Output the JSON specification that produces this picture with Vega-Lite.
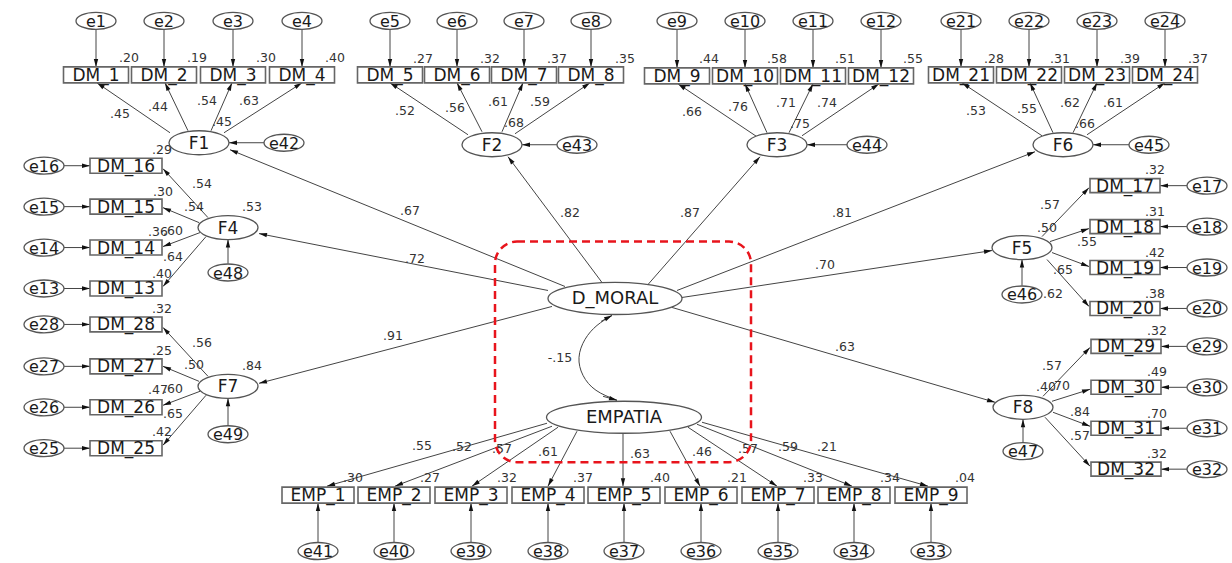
{
  "$schema": "https://vega.github.io/schema/vega-lite/v6.json",
  "width": 1232,
  "height": 563,
  "autosize": {"type": "fit", "contains": "padding"},
  "padding": 0,
  "background": "white",
  "config": {"view": {"stroke": null}},
  "datasets": {
    "nodes": [
      {"name": "e1", "x": 96, "y": 21, "kind": "e"},
      {"name": "e2", "x": 164, "y": 21, "kind": "e"},
      {"name": "e3", "x": 233, "y": 21, "kind": "e"},
      {"name": "e4", "x": 302, "y": 21, "kind": "e"},
      {"name": "e5", "x": 390, "y": 21, "kind": "e"},
      {"name": "e6", "x": 457, "y": 21, "kind": "e"},
      {"name": "e7", "x": 524, "y": 21, "kind": "e"},
      {"name": "e8", "x": 591, "y": 21, "kind": "e"},
      {"name": "e9", "x": 677, "y": 21, "kind": "e"},
      {"name": "e10", "x": 745, "y": 21, "kind": "e"},
      {"name": "e11", "x": 813, "y": 21, "kind": "e"},
      {"name": "e12", "x": 881, "y": 21, "kind": "e"},
      {"name": "e21", "x": 961, "y": 21, "kind": "e"},
      {"name": "e22", "x": 1029, "y": 21, "kind": "e"},
      {"name": "e23", "x": 1097, "y": 21, "kind": "e"},
      {"name": "e24", "x": 1165, "y": 21, "kind": "e"},
      {"name": "e42", "x": 284, "y": 143, "kind": "e"},
      {"name": "e43", "x": 577, "y": 145, "kind": "e"},
      {"name": "e44", "x": 867, "y": 145, "kind": "e"},
      {"name": "e45", "x": 1149, "y": 145, "kind": "e"},
      {"name": "e16", "x": 44, "y": 166, "kind": "e"},
      {"name": "e15", "x": 44, "y": 207, "kind": "e"},
      {"name": "e14", "x": 44, "y": 248, "kind": "e"},
      {"name": "e13", "x": 44, "y": 289, "kind": "e"},
      {"name": "e28", "x": 44, "y": 325, "kind": "e"},
      {"name": "e27", "x": 44, "y": 367, "kind": "e"},
      {"name": "e26", "x": 44, "y": 408, "kind": "e"},
      {"name": "e25", "x": 44, "y": 449, "kind": "e"},
      {"name": "e48", "x": 228, "y": 273, "kind": "e"},
      {"name": "e49", "x": 228, "y": 435, "kind": "e"},
      {"name": "e46", "x": 1022, "y": 295, "kind": "e"},
      {"name": "e47", "x": 1023, "y": 452, "kind": "e"},
      {"name": "e17", "x": 1207, "y": 186, "kind": "e"},
      {"name": "e18", "x": 1207, "y": 227, "kind": "e"},
      {"name": "e19", "x": 1207, "y": 268, "kind": "e"},
      {"name": "e20", "x": 1207, "y": 309, "kind": "e"},
      {"name": "e29", "x": 1207, "y": 347, "kind": "e"},
      {"name": "e30", "x": 1207, "y": 388, "kind": "e"},
      {"name": "e31", "x": 1207, "y": 429, "kind": "e"},
      {"name": "e32", "x": 1207, "y": 470, "kind": "e"},
      {"name": "e41", "x": 318, "y": 552, "kind": "e"},
      {"name": "e40", "x": 394, "y": 552, "kind": "e"},
      {"name": "e39", "x": 471, "y": 552, "kind": "e"},
      {"name": "e38", "x": 548, "y": 552, "kind": "e"},
      {"name": "e37", "x": 624, "y": 552, "kind": "e"},
      {"name": "e36", "x": 701, "y": 552, "kind": "e"},
      {"name": "e35", "x": 778, "y": 552, "kind": "e"},
      {"name": "e34", "x": 854, "y": 552, "kind": "e"},
      {"name": "e33", "x": 931, "y": 552, "kind": "e"},
      {"name": "F1", "x": 199, "y": 143, "kind": "F"},
      {"name": "F2", "x": 492, "y": 145, "kind": "F"},
      {"name": "F3", "x": 777, "y": 145, "kind": "F"},
      {"name": "F6", "x": 1063, "y": 145, "kind": "F"},
      {"name": "F4", "x": 228, "y": 228, "kind": "F"},
      {"name": "F7", "x": 228, "y": 387, "kind": "F"},
      {"name": "F5", "x": 1022, "y": 248, "kind": "F"},
      {"name": "F8", "x": 1023, "y": 408, "kind": "F"},
      {"name": "D_MORAL", "x": 615, "y": 299, "kind": "D"},
      {"name": "EMPATIA", "x": 624, "y": 418, "kind": "EMP"},
      {"name": "DM_1", "x": 96, "y": 75, "kind": "top"},
      {"name": "DM_2", "x": 164, "y": 75, "kind": "top"},
      {"name": "DM_3", "x": 233, "y": 75, "kind": "top"},
      {"name": "DM_4", "x": 302, "y": 75, "kind": "top"},
      {"name": "DM_5", "x": 390, "y": 75, "kind": "top"},
      {"name": "DM_6", "x": 457, "y": 75, "kind": "top"},
      {"name": "DM_7", "x": 524, "y": 75, "kind": "top"},
      {"name": "DM_8", "x": 591, "y": 75, "kind": "top"},
      {"name": "DM_9", "x": 677, "y": 76, "kind": "top"},
      {"name": "DM_10", "x": 745, "y": 76, "kind": "top"},
      {"name": "DM_11", "x": 813, "y": 76, "kind": "top"},
      {"name": "DM_12", "x": 881, "y": 76, "kind": "top"},
      {"name": "DM_21", "x": 961, "y": 75, "kind": "top"},
      {"name": "DM_22", "x": 1029, "y": 75, "kind": "top"},
      {"name": "DM_23", "x": 1097, "y": 75, "kind": "top"},
      {"name": "DM_24", "x": 1165, "y": 75, "kind": "top"},
      {"name": "DM_16", "x": 126, "y": 166, "kind": "left"},
      {"name": "DM_15", "x": 126, "y": 207, "kind": "left"},
      {"name": "DM_14", "x": 126, "y": 248, "kind": "left"},
      {"name": "DM_13", "x": 126, "y": 289, "kind": "left"},
      {"name": "DM_28", "x": 126, "y": 325, "kind": "left"},
      {"name": "DM_27", "x": 126, "y": 367, "kind": "left"},
      {"name": "DM_26", "x": 126, "y": 408, "kind": "left"},
      {"name": "DM_25", "x": 126, "y": 449, "kind": "left"},
      {"name": "DM_17", "x": 1125, "y": 186, "kind": "right"},
      {"name": "DM_18", "x": 1125, "y": 227, "kind": "right"},
      {"name": "DM_19", "x": 1125, "y": 268, "kind": "right"},
      {"name": "DM_20", "x": 1125, "y": 309, "kind": "right"},
      {"name": "DM_29", "x": 1126, "y": 347, "kind": "right"},
      {"name": "DM_30", "x": 1126, "y": 388, "kind": "right"},
      {"name": "DM_31", "x": 1126, "y": 429, "kind": "right"},
      {"name": "DM_32", "x": 1126, "y": 470, "kind": "right"},
      {"name": "EMP_1", "x": 318, "y": 496, "kind": "emp"},
      {"name": "EMP_2", "x": 394, "y": 496, "kind": "emp"},
      {"name": "EMP_3", "x": 471, "y": 496, "kind": "emp"},
      {"name": "EMP_4", "x": 548, "y": 496, "kind": "emp"},
      {"name": "EMP_5", "x": 624, "y": 496, "kind": "emp"},
      {"name": "EMP_6", "x": 701, "y": 496, "kind": "emp"},
      {"name": "EMP_7", "x": 778, "y": 496, "kind": "emp"},
      {"name": "EMP_8", "x": 854, "y": 496, "kind": "emp"},
      {"name": "EMP_9", "x": 931, "y": 496, "kind": "emp"}
    ],
    "edges": [
      {"x": 96, "y": 30, "x2": 96, "y2": 67}, {"x": 164, "y": 30, "x2": 164, "y2": 67},
      {"x": 233, "y": 30, "x2": 233, "y2": 67}, {"x": 302, "y": 30, "x2": 302, "y2": 67},
      {"x": 390, "y": 30, "x2": 390, "y2": 67}, {"x": 457, "y": 30, "x2": 457, "y2": 67},
      {"x": 524, "y": 30, "x2": 524, "y2": 67}, {"x": 591, "y": 30, "x2": 591, "y2": 67},
      {"x": 677, "y": 30, "x2": 677, "y2": 68}, {"x": 745, "y": 30, "x2": 745, "y2": 68},
      {"x": 813, "y": 30, "x2": 813, "y2": 68}, {"x": 881, "y": 30, "x2": 881, "y2": 68},
      {"x": 961, "y": 30, "x2": 961, "y2": 67}, {"x": 1029, "y": 30, "x2": 1029, "y2": 67},
      {"x": 1097, "y": 30, "x2": 1097, "y2": 67}, {"x": 1165, "y": 30, "x2": 1165, "y2": 67},
      {"x": 170, "y": 133, "x2": 97, "y2": 83}, {"x": 188, "y": 131, "x2": 165, "y2": 83},
      {"x": 211, "y": 131, "x2": 232, "y2": 83}, {"x": 224, "y": 133, "x2": 302, "y2": 83},
      {"x": 468, "y": 135, "x2": 390, "y2": 83}, {"x": 482, "y": 132, "x2": 457, "y2": 83},
      {"x": 502, "y": 132, "x2": 523, "y2": 83}, {"x": 515, "y": 134, "x2": 590, "y2": 83},
      {"x": 757, "y": 137, "x2": 678, "y2": 84}, {"x": 767, "y": 133, "x2": 745, "y2": 84},
      {"x": 789, "y": 133, "x2": 813, "y2": 84}, {"x": 802, "y": 136, "x2": 879, "y2": 84},
      {"x": 1042, "y": 136, "x2": 962, "y2": 83}, {"x": 1053, "y": 133, "x2": 1030, "y2": 83},
      {"x": 1073, "y": 133, "x2": 1097, "y2": 83}, {"x": 1087, "y": 135, "x2": 1165, "y2": 83},
      {"x": 264, "y": 143, "x2": 229, "y2": 143}, {"x": 557, "y": 145, "x2": 522, "y2": 145},
      {"x": 847, "y": 145, "x2": 807, "y2": 145}, {"x": 1129, "y": 145, "x2": 1093, "y2": 145},
      {"x": 63, "y": 166, "x2": 90, "y2": 166}, {"x": 63, "y": 207, "x2": 90, "y2": 207},
      {"x": 63, "y": 248, "x2": 90, "y2": 248}, {"x": 63, "y": 289, "x2": 90, "y2": 289},
      {"x": 63, "y": 325, "x2": 90, "y2": 325}, {"x": 63, "y": 367, "x2": 90, "y2": 367},
      {"x": 63, "y": 408, "x2": 90, "y2": 408}, {"x": 63, "y": 449, "x2": 90, "y2": 449},
      {"x": 228, "y": 264, "x2": 228, "y2": 240}, {"x": 228, "y": 426, "x2": 228, "y2": 399},
      {"x": 208, "y": 218, "x2": 163, "y2": 169}, {"x": 199, "y": 223, "x2": 163, "y2": 208},
      {"x": 200, "y": 233, "x2": 163, "y2": 247}, {"x": 206, "y": 237, "x2": 163, "y2": 287},
      {"x": 208, "y": 377, "x2": 163, "y2": 328}, {"x": 199, "y": 382, "x2": 163, "y2": 367},
      {"x": 200, "y": 392, "x2": 163, "y2": 406}, {"x": 206, "y": 396, "x2": 163, "y2": 446},
      {"x": 1187, "y": 186, "x2": 1160, "y2": 186}, {"x": 1187, "y": 227, "x2": 1160, "y2": 227},
      {"x": 1187, "y": 268, "x2": 1160, "y2": 268}, {"x": 1187, "y": 309, "x2": 1160, "y2": 309},
      {"x": 1187, "y": 347, "x2": 1161, "y2": 347}, {"x": 1187, "y": 388, "x2": 1161, "y2": 388},
      {"x": 1187, "y": 429, "x2": 1161, "y2": 429}, {"x": 1187, "y": 470, "x2": 1161, "y2": 470},
      {"x": 1022, "y": 286, "x2": 1022, "y2": 260}, {"x": 1023, "y": 443, "x2": 1023, "y2": 420},
      {"x": 1042, "y": 237, "x2": 1089, "y2": 188}, {"x": 1050, "y": 242, "x2": 1089, "y2": 229},
      {"x": 1052, "y": 253, "x2": 1089, "y2": 267}, {"x": 1047, "y": 260, "x2": 1089, "y2": 307},
      {"x": 1043, "y": 397, "x2": 1090, "y2": 348}, {"x": 1052, "y": 402, "x2": 1090, "y2": 390},
      {"x": 1053, "y": 413, "x2": 1090, "y2": 427}, {"x": 1045, "y": 418, "x2": 1090, "y2": 467},
      {"x": 565, "y": 287, "x2": 230, "y2": 150}, {"x": 548, "y": 291, "x2": 259, "y2": 234},
      {"x": 552, "y": 307, "x2": 259, "y2": 384}, {"x": 602, "y": 283, "x2": 508, "y2": 157},
      {"x": 648, "y": 285, "x2": 760, "y2": 157}, {"x": 677, "y": 291, "x2": 1035, "y2": 152},
      {"x": 682, "y": 298, "x2": 992, "y2": 251}, {"x": 672, "y": 308, "x2": 995, "y2": 403},
      {"x": 547, "y": 424, "x2": 327, "y2": 487}, {"x": 552, "y": 427, "x2": 395, "y2": 487},
      {"x": 558, "y": 428, "x2": 472, "y2": 487}, {"x": 577, "y": 432, "x2": 548, "y2": 487},
      {"x": 623, "y": 434, "x2": 623, "y2": 487}, {"x": 670, "y": 432, "x2": 700, "y2": 487},
      {"x": 688, "y": 428, "x2": 777, "y2": 487}, {"x": 697, "y": 425, "x2": 852, "y2": 487},
      {"x": 702, "y": 423, "x2": 928, "y2": 487},
      {"x": 318, "y": 543, "x2": 318, "y2": 504}, {"x": 394, "y": 543, "x2": 394, "y2": 504},
      {"x": 471, "y": 543, "x2": 471, "y2": 504}, {"x": 548, "y": 543, "x2": 548, "y2": 504},
      {"x": 624, "y": 543, "x2": 624, "y2": 504}, {"x": 701, "y": 543, "x2": 701, "y2": 504},
      {"x": 778, "y": 543, "x2": 778, "y2": 504}, {"x": 854, "y": 543, "x2": 854, "y2": 504},
      {"x": 931, "y": 543, "x2": 931, "y2": 504},
      {"x": 601, "y": 322, "x2": 612, "y2": 316}, {"x": 603, "y": 397, "x2": 617, "y2": 401}
    ],
    "curve": [
      {"x": 612, "y": 316, "o": 1}, {"x": 597, "y": 326, "o": 2}, {"x": 585, "y": 340, "o": 3},
      {"x": 579, "y": 358, "o": 4}, {"x": 583, "y": 376, "o": 5}, {"x": 596, "y": 391, "o": 6},
      {"x": 617, "y": 401, "o": 7}
    ],
    "labels": [
      {"t": ".20", "x": 129, "y": 58}, {"t": ".19", "x": 197, "y": 58}, {"t": ".30", "x": 266, "y": 58}, {"t": ".40", "x": 335, "y": 58},
      {"t": ".27", "x": 423, "y": 59}, {"t": ".32", "x": 490, "y": 59}, {"t": ".37", "x": 557, "y": 59}, {"t": ".35", "x": 625, "y": 59},
      {"t": ".44", "x": 709, "y": 59}, {"t": ".58", "x": 777, "y": 59}, {"t": ".51", "x": 845, "y": 59}, {"t": ".55", "x": 913, "y": 59},
      {"t": ".28", "x": 994, "y": 59}, {"t": ".31", "x": 1060, "y": 59}, {"t": ".39", "x": 1130, "y": 59}, {"t": ".37", "x": 1198, "y": 59},
      {"t": ".45", "x": 120, "y": 114}, {"t": ".44", "x": 158, "y": 107}, {"t": ".54", "x": 207, "y": 101}, {"t": ".63", "x": 249, "y": 101}, {"t": ".45", "x": 222, "y": 122},
      {"t": ".52", "x": 405, "y": 111}, {"t": ".56", "x": 455, "y": 108}, {"t": ".61", "x": 498, "y": 102}, {"t": ".59", "x": 540, "y": 102}, {"t": ".68", "x": 514, "y": 123},
      {"t": ".66", "x": 692, "y": 112}, {"t": ".76", "x": 738, "y": 107}, {"t": ".71", "x": 786, "y": 103}, {"t": ".74", "x": 827, "y": 103}, {"t": ".75", "x": 800, "y": 124},
      {"t": ".53", "x": 976, "y": 111}, {"t": ".55", "x": 1027, "y": 109}, {"t": ".62", "x": 1070, "y": 103}, {"t": ".61", "x": 1113, "y": 103}, {"t": ".66", "x": 1085, "y": 124},
      {"t": ".29", "x": 162, "y": 150}, {"t": ".54", "x": 202, "y": 184}, {"t": ".30", "x": 163, "y": 192}, {"t": ".54", "x": 194, "y": 207},
      {"t": ".53", "x": 252, "y": 207}, {"t": ".36", "x": 158, "y": 232}, {"t": ".60", "x": 173, "y": 231}, {"t": ".64", "x": 173, "y": 257}, {"t": ".40", "x": 162, "y": 274},
      {"t": ".32", "x": 162, "y": 310}, {"t": ".56", "x": 202, "y": 344}, {"t": ".25", "x": 162, "y": 352}, {"t": ".50", "x": 194, "y": 366},
      {"t": ".84", "x": 252, "y": 367}, {"t": ".47", "x": 158, "y": 391}, {"t": ".60", "x": 173, "y": 390}, {"t": ".65", "x": 173, "y": 415}, {"t": ".42", "x": 162, "y": 433},
      {"t": ".32", "x": 1155, "y": 170}, {"t": ".57", "x": 1050, "y": 205}, {"t": ".31", "x": 1155, "y": 212}, {"t": ".50", "x": 1047, "y": 228},
      {"t": ".55", "x": 1087, "y": 242}, {"t": ".42", "x": 1155, "y": 253}, {"t": ".65", "x": 1063, "y": 270}, {"t": ".62", "x": 1053, "y": 295}, {"t": ".38", "x": 1155, "y": 295},
      {"t": ".32", "x": 1157, "y": 332}, {"t": ".57", "x": 1052, "y": 367}, {"t": ".49", "x": 1157, "y": 373}, {"t": ".40", "x": 1046, "y": 388},
      {"t": ".70", "x": 1060, "y": 387}, {"t": ".84", "x": 1080, "y": 413}, {"t": ".70", "x": 1157, "y": 415}, {"t": ".57", "x": 1080, "y": 437}, {"t": ".32", "x": 1157, "y": 455},
      {"t": ".67", "x": 410, "y": 211}, {"t": ".72", "x": 415, "y": 259}, {"t": ".91", "x": 393, "y": 337}, {"t": ".82", "x": 570, "y": 213},
      {"t": ".87", "x": 690, "y": 213}, {"t": ".81", "x": 842, "y": 213}, {"t": ".70", "x": 825, "y": 265}, {"t": ".63", "x": 845, "y": 348}, {"t": "-.15", "x": 560, "y": 359},
      {"t": ".55", "x": 422, "y": 447}, {"t": ".52", "x": 462, "y": 448}, {"t": ".57", "x": 502, "y": 450}, {"t": ".61", "x": 548, "y": 453},
      {"t": ".63", "x": 640, "y": 455}, {"t": ".46", "x": 702, "y": 453}, {"t": ".57", "x": 748, "y": 450}, {"t": ".59", "x": 788, "y": 448}, {"t": ".21", "x": 827, "y": 448},
      {"t": ".30", "x": 353, "y": 479}, {"t": ".27", "x": 430, "y": 479}, {"t": ".32", "x": 507, "y": 479}, {"t": ".37", "x": 583, "y": 479},
      {"t": ".40", "x": 660, "y": 479}, {"t": ".21", "x": 737, "y": 479}, {"t": ".33", "x": 813, "y": 479}, {"t": ".34", "x": 890, "y": 479}, {"t": ".04", "x": 965, "y": 479}
    ],
    "frame": [{"x": 495, "y": 242, "x2": 751, "y2": 463}]
  },
  "encoding": {
    "x": {"field": "x", "type": "quantitative", "scale": {"domain": [0, 1232], "nice": false, "zero": false}, "axis": null},
    "y": {"field": "y", "type": "quantitative", "scale": {"domain": [0, 563], "nice": false, "zero": false, "reverse": true}, "axis": null}
  },
  "layer": [
    {
      "data": {"name": "edges"},
      "mark": {"type": "rule", "stroke": "#444", "strokeWidth": 1},
      "encoding": {"x2": {"field": "x2"}, "y2": {"field": "y2"}}
    },
    {
      "data": {"name": "curve"},
      "mark": {"type": "line", "stroke": "#444", "strokeWidth": 1, "interpolate": "natural"},
      "encoding": {"order": {"field": "o", "type": "quantitative"}}
    },
    {
      "data": {"name": "edges"},
      "transform": [{"calculate": "atan2(datum.x2 - datum.x, datum.y - datum.y2) * 180 / PI", "as": "ang"}],
      "mark": {"type": "point", "shape": "M0,0L-0.55,2L0.55,2Z", "size": 64, "filled": true, "fill": "#111", "stroke": null, "opacity": 1},
      "encoding": {
        "x": {"field": "x2", "type": "quantitative"},
        "y": {"field": "y2", "type": "quantitative"},
        "angle": {"field": "ang", "type": "quantitative", "scale": null}
      }
    },
    {
      "data": {"name": "nodes"},
      "transform": [{"filter": "datum.kind == 'e'"}],
      "mark": {"type": "point", "shape": "M-1,0A1,0.425,0,1,1,1,0A1,0.425,0,1,1,-1,0Z", "size": 1600, "filled": true, "fill": "white", "stroke": "#555", "strokeWidth": 1.3, "opacity": 1}
    },
    {
      "data": {"name": "nodes"},
      "transform": [{"filter": "datum.kind == 'F'"}],
      "mark": {"type": "point", "shape": "M-1,0A1,0.4,0,1,1,1,0A1,0.4,0,1,1,-1,0Z", "size": 3600, "filled": true, "fill": "white", "stroke": "#555", "strokeWidth": 1.3, "opacity": 1}
    },
    {
      "data": {"name": "nodes"},
      "transform": [{"filter": "datum.kind == 'D'"}],
      "mark": {"type": "point", "shape": "M-1,0A1,0.239,0,1,1,1,0A1,0.239,0,1,1,-1,0Z", "size": 17956, "filled": true, "fill": "white", "stroke": "#555", "strokeWidth": 1.3, "opacity": 1}
    },
    {
      "data": {"name": "nodes"},
      "transform": [{"filter": "datum.kind == 'EMP'"}],
      "mark": {"type": "point", "shape": "M-1,0A1,0.2065,0,1,1,1,0A1,0.2065,0,1,1,-1,0Z", "size": 24025, "filled": true, "fill": "white", "stroke": "#555", "strokeWidth": 1.3, "opacity": 1}
    },
    {
      "data": {"name": "nodes"},
      "transform": [{"filter": "datum.kind == 'top'"}],
      "mark": {"type": "point", "shape": "M-1,-0.246L1,-0.246L1,0.246L-1,0.246Z", "size": 4225, "filled": true, "fill": "white", "stroke": "#666", "strokeWidth": 1.6, "opacity": 1}
    },
    {
      "data": {"name": "nodes"},
      "transform": [{"filter": "datum.kind == 'left'"}],
      "mark": {"type": "point", "shape": "M-1,-0.208L1,-0.208L1,0.208L-1,0.208Z", "size": 5184, "filled": true, "fill": "white", "stroke": "#666", "strokeWidth": 1.6, "opacity": 1}
    },
    {
      "data": {"name": "nodes"},
      "transform": [{"filter": "datum.kind == 'right'"}],
      "mark": {"type": "point", "shape": "M-1,-0.2L1,-0.2L1,0.2L-1,0.2Z", "size": 4900, "filled": true, "fill": "white", "stroke": "#666", "strokeWidth": 1.6, "opacity": 1}
    },
    {
      "data": {"name": "nodes"},
      "transform": [{"filter": "datum.kind == 'emp'"}],
      "mark": {"type": "point", "shape": "M-1,-0.222L1,-0.222L1,0.222L-1,0.222Z", "size": 5184, "filled": true, "fill": "white", "stroke": "#666", "strokeWidth": 1.6, "opacity": 1}
    },
    {
      "data": {"name": "nodes"},
      "transform": [{"filter": "datum.kind != 'e' && datum.kind != 'D' && datum.kind != 'EMP'"}],
      "mark": {"type": "text", "font": "DejaVu Sans", "fontSize": 17, "fill": "#1a1a1a", "align": "center", "baseline": "middle", "dy": 1},
      "encoding": {"text": {"field": "name"}}
    },
    {
      "data": {"name": "nodes"},
      "transform": [{"filter": "datum.kind == 'D' || datum.kind == 'EMP'"}],
      "mark": {"type": "text", "font": "DejaVu Sans", "fontSize": 18, "fill": "#1a1a1a", "align": "center", "baseline": "middle", "dy": 1},
      "encoding": {"text": {"field": "name"}}
    },
    {
      "data": {"name": "nodes"},
      "transform": [{"filter": "datum.kind == 'e'"}],
      "mark": {"type": "text", "font": "DejaVu Sans", "fontSize": 16, "fill": "#1a1a1a", "align": "center", "baseline": "middle", "dy": 1},
      "encoding": {"text": {"field": "name"}}
    },
    {
      "data": {"name": "labels"},
      "mark": {"type": "text", "font": "DejaVu Sans", "fontSize": 12.5, "fill": "#333", "align": "center", "baseline": "middle"},
      "encoding": {"text": {"field": "t"}}
    },
    {
      "data": {"name": "frame"},
      "mark": {"type": "rect", "fill": null, "stroke": "#e8141c", "strokeWidth": 2.5, "strokeDash": [8, 5], "cornerRadius": 22},
      "encoding": {"x2": {"field": "x2"}, "y2": {"field": "y2"}}
    }
  ]
}
